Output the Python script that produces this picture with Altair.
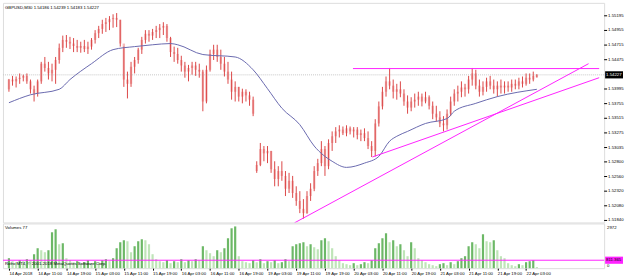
import json
import altair as alt
import pandas as pd

# ---------------- data (GBPUSD bars) ----------------
high = [1.5416, 1.5421, 1.5420, 1.5425, 1.5423, 1.5425, 1.5415, 1.5405, 1.5415, 1.5444,
        1.5452, 1.5444, 1.5441, 1.5452, 1.5474, 1.5487, 1.5488, 1.5485, 1.5483, 1.5480,
        1.5477, 1.5480, 1.5477, 1.5483, 1.5496, 1.5503, 1.5513, 1.5516, 1.5519, 1.5522,
        1.5524, 1.5513, 1.5469, 1.5428, 1.5444, 1.5452, 1.5467, 1.5485, 1.5496, 1.5496,
        1.5498, 1.5503, 1.5506, 1.5509, 1.5506, 1.5485, 1.5469, 1.5467, 1.5454, 1.5444,
        1.5439, 1.5444, 1.5444, 1.5441, 1.5431, 1.5438, 1.5464, 1.5472, 1.5472, 1.5464,
        1.5452, 1.5444, 1.5428, 1.5412, 1.5403, 1.5400, 1.5399, 1.5395, 1.5387, 1.5281,
        1.5311, 1.5306, 1.5306, 1.5298, 1.5281, 1.5273, 1.5281, 1.5265, 1.5262, 1.5257,
        1.5240, 1.5232, 1.5219, 1.5232, 1.5245, 1.5273, 1.5285, 1.5314, 1.5306, 1.5317,
        1.5330, 1.5337, 1.5340, 1.5338, 1.5340, 1.5338, 1.5337, 1.5337, 1.5333, 1.5335,
        1.5330, 1.5314, 1.5350, 1.5379, 1.5403, 1.5420, 1.5434, 1.5415, 1.5408, 1.5412,
        1.5399, 1.5389, 1.5386, 1.5392, 1.5395, 1.5392, 1.5395, 1.5389, 1.5379, 1.5372,
        1.5363, 1.5355, 1.5366, 1.5387, 1.5399, 1.5405, 1.5412, 1.5408, 1.5421, 1.5434,
        1.5431, 1.5415, 1.5412, 1.5418, 1.5421, 1.5415, 1.5412, 1.5415, 1.5412, 1.5412,
        1.5415, 1.5415, 1.5418, 1.5420, 1.5425, 1.5425, 1.5428, 1.54239]

low = [1.5395, 1.5405, 1.5402, 1.5408, 1.5412, 1.5408, 1.5392, 1.5379, 1.5387, 1.5408,
       1.5428, 1.5415, 1.5412, 1.5408, 1.5441, 1.5460, 1.5467, 1.5465, 1.5460, 1.5460,
       1.5459, 1.5460, 1.5457, 1.5464, 1.5474, 1.5483, 1.5490, 1.5493, 1.5496, 1.5500,
       1.5501, 1.5469, 1.5403, 1.5384, 1.5403, 1.5425, 1.5441, 1.5457, 1.5474, 1.5477,
       1.5480, 1.5483, 1.5483, 1.5488, 1.5477, 1.5452, 1.5444, 1.5441, 1.5428, 1.5418,
       1.5412, 1.5423, 1.5421, 1.5418, 1.5363, 1.5376, 1.5428, 1.5447, 1.5444, 1.5431,
       1.5420, 1.5408, 1.5382, 1.5379, 1.5379, 1.5376, 1.5379, 1.5372, 1.5355, 1.5262,
       1.5273, 1.5281, 1.5278, 1.5262, 1.5240, 1.5240, 1.5249, 1.5224, 1.5229, 1.5221,
       1.5208, 1.5196, 1.5187, 1.5195, 1.5216, 1.5232, 1.5257, 1.5273, 1.5257, 1.5268,
       1.5298, 1.5311, 1.5320, 1.5324, 1.5322, 1.5325, 1.5320, 1.5317, 1.5314, 1.5314,
       1.5301, 1.5288, 1.5289, 1.5338, 1.5366, 1.5387, 1.5399, 1.5384, 1.5382, 1.5386,
       1.5372, 1.5359, 1.5363, 1.5369, 1.5372, 1.5371, 1.5376, 1.5366, 1.5350, 1.5346,
       1.5337, 1.5330, 1.5333, 1.5355, 1.5372, 1.5379, 1.5386, 1.5387, 1.5392, 1.5405,
       1.5399, 1.5387, 1.5389, 1.5395, 1.5399, 1.5392, 1.5387, 1.5392, 1.5392, 1.5395,
       1.5395, 1.5399, 1.5399, 1.5402, 1.5405, 1.5408, 1.5412, 1.54183]

open_ = [1.5399, 1.5415, 1.5412, 1.5416, 1.5418, 1.5421, 1.5412, 1.5399, 1.5392, 1.5412,
         1.5441, 1.5434, 1.5425, 1.5431, 1.5447, 1.5467, 1.5480, 1.5477, 1.5474, 1.5470,
         1.5467, 1.5470, 1.5465, 1.5469, 1.5480, 1.5491, 1.5498, 1.5506, 1.5509, 1.5514,
         1.5516, 1.5513, 1.5474, 1.5415, 1.5408, 1.5436, 1.5447, 1.5464, 1.5480, 1.5490,
         1.5487, 1.5493, 1.5496, 1.5500, 1.5503, 1.5483, 1.5460, 1.5457, 1.5447, 1.5438,
         1.5428, 1.5434, 1.5438, 1.5431, 1.5428, 1.5379, 1.5431, 1.5457, 1.5464, 1.5452,
         1.5441, 1.5428, 1.5415, 1.5395, 1.5403, 1.5387, 1.5395, 1.5389, 1.5382, 1.5265,
         1.5275, 1.5301, 1.5294, 1.5298, 1.5268, 1.5252, 1.5265, 1.5257, 1.5236, 1.5249,
         1.5229, 1.5216, 1.5203, 1.5196, 1.5224, 1.5236, 1.5265, 1.5278, 1.5301, 1.5273,
         1.5311, 1.5322, 1.5330, 1.5333, 1.5327, 1.5335, 1.5330, 1.5333, 1.5324, 1.5327,
         1.5319, 1.5306, 1.5298, 1.5343, 1.5371, 1.5395, 1.5412, 1.5405, 1.5395, 1.5399,
         1.5392, 1.5379, 1.5369, 1.5379, 1.5382, 1.5387, 1.5379, 1.5386, 1.5372, 1.5359,
         1.5353, 1.5343, 1.5340, 1.5359, 1.5379, 1.5392, 1.5395, 1.5402, 1.5399, 1.5415,
         1.5425, 1.5405, 1.5395, 1.5403, 1.5412, 1.5405, 1.5399, 1.5405, 1.5402, 1.5405,
         1.5402, 1.5408, 1.5405, 1.5412, 1.5408, 1.5418, 1.5415, 1.54186]

close = [1.5415, 1.5412, 1.5416, 1.5418, 1.5421, 1.5412, 1.5399, 1.5392, 1.5412, 1.5441,
         1.5434, 1.5425, 1.5431, 1.5447, 1.5467, 1.5480, 1.5477, 1.5474, 1.5470, 1.5467,
         1.5470, 1.5465, 1.5469, 1.5480, 1.5491, 1.5498, 1.5506, 1.5509, 1.5514, 1.5516,
         1.5513, 1.5474, 1.5415, 1.5408, 1.5436, 1.5447, 1.5464, 1.5480, 1.5490, 1.5487,
         1.5493, 1.5496, 1.5500, 1.5503, 1.5483, 1.5460, 1.5457, 1.5447, 1.5438, 1.5428,
         1.5434, 1.5438, 1.5431, 1.5428, 1.5379, 1.5431, 1.5457, 1.5464, 1.5452, 1.5441,
         1.5428, 1.5415, 1.5395, 1.5403, 1.5387, 1.5395, 1.5389, 1.5382, 1.5359, 1.5275,
         1.5301, 1.5294, 1.5298, 1.5268, 1.5252, 1.5265, 1.5257, 1.5236, 1.5249, 1.5229,
         1.5216, 1.5203, 1.5196, 1.5224, 1.5236, 1.5265, 1.5278, 1.5301, 1.5273, 1.5311,
         1.5322, 1.5330, 1.5333, 1.5327, 1.5335, 1.5330, 1.5333, 1.5324, 1.5327, 1.5319,
         1.5306, 1.5298, 1.5343, 1.5371, 1.5395, 1.5412, 1.5405, 1.5395, 1.5399, 1.5392,
         1.5379, 1.5369, 1.5379, 1.5382, 1.5387, 1.5379, 1.5386, 1.5372, 1.5359, 1.5353,
         1.5343, 1.5340, 1.5359, 1.5379, 1.5392, 1.5395, 1.5402, 1.5399, 1.5415, 1.5425,
         1.5405, 1.5395, 1.5403, 1.5412, 1.5405, 1.5399, 1.5405, 1.5402, 1.5405, 1.5402,
         1.5408, 1.5405, 1.5412, 1.5408, 1.5418, 1.5415, 1.5421, 1.54227]

volume = [710, 497, 426, 568, 497, 639, 568, 994, 1420, 1278,
          1136, 1278, 2556, 2769, 1704, 1775, 710, 568, 426, 497,
          355, 426, 568, 355, 497, 426, 568, 639, 497, 710,
          1420, 1846, 1988, 1917, 1136, 1562, 1917, 2059, 1988, 1704,
          994, 639, 497, 426, 568, 355, 497, 426, 639, 426,
          568, 497, 639, 568, 1562, 1278, 1065, 852, 1278, 1136,
          1420, 2130, 2840, 2972, 852, 497, 426, 355, 568, 426,
          639, 355, 497, 426, 568, 355, 426, 639, 497, 1562,
          1704, 1775, 1846, 1562, 1704, 1491, 1349, 1988, 2130, 1917,
          1420, 852, 568, 355, 284, 213, 355, 213, 284, 426,
          355, 568, 1420, 1775, 2130, 2485, 1846, 1988, 1562, 1704,
          1278, 852, 1846, 1420, 710, 568, 426, 284, 213, 142,
          284, 355, 213, 426, 284, 497, 710, 852, 1562, 1846,
          1704, 1420, 2414, 1917, 1846, 1988, 1278, 852, 710, 355,
          213, 142, 284, 213, 426, 497, 568, 77]

# moving average (bar index, value)
ma_idx = [0, 6, 14, 17, 23, 29, 35, 40, 45, 47, 54, 63, 68, 72, 76, 81, 85, 90, 94, 99,
          103, 106, 108, 111, 116, 122, 124, 130, 136, 147]
ma_val = [1.5377, 1.5390, 1.5399, 1.5415, 1.5441, 1.5464, 1.5469, 1.5472, 1.5474, 1.5472,
          1.5456, 1.5452, 1.5431, 1.5400, 1.5368, 1.5341, 1.5306, 1.5281, 1.5271, 1.5278,
          1.5289, 1.5314, 1.5322, 1.5330, 1.5343, 1.5351, 1.5363, 1.5376, 1.5387, 1.5399]

# trend lines (bar index / price)
tl_x1 = [79.5, 101.2, 95.8]
tl_x2 = [161.4, 164.35, 164.35]
tl_y1 = [1.5180, 1.5288, 1.5433]
tl_y2 = [1.5441, 1.5418, 1.5433]

tick_idx = [0, 8, 16, 24, 32, 40, 48, 56, 64, 72, 80, 88, 96, 104, 112, 120, 128, 136, 144]
tick_lbl = ["14 Apr 2018", "14 Apr 11:00", "14 Apr 19:00", "15 Apr 03:00", "15 Apr 11:00",
            "15 Apr 19:00", "16 Apr 03:00", "16 Apr 11:00", "16 Apr 19:00", "19 Apr 03:00",
            "19 Apr 11:00", "19 Apr 19:00", "20 Apr 03:00", "20 Apr 11:00", "20 Apr 19:00",
            "21 Apr 03:00", "21 Apr 11:00", "21 Apr 19:00", "22 Apr 03:00"]
price_ticks = [1.55195, 1.54955, 1.54715, 1.54475, 1.53995, 1.53755, 1.53515, 1.53275,
               1.53035, 1.52800, 1.52560, 1.52320, 1.52080, 1.51840]
vol_max_tick = 2972
vol_min_tick = 0

current_price = 1.54227
vol_level = 566
vol_level_text = "811.365"
title_text = "GBPUSD,M30  1.54186 1.54239 1.54183 1.54227"
vol_title = "Volumes 77"
copyright_text = "Rofro MT4, \u00a9 2001-2018 MetaQuotes Software Corp."

# ---------------- frames ----------------
N = len(close)
bars = pd.DataFrame({"i": list(range(N)), "open": open_, "high": high, "low": low,
                     "close": close, "vol": volume})
bars["dir"] = ["up" if k == 0 or volume[k] >= volume[k - 1] else "down" for k in range(N)]
ma = pd.DataFrame({"i": ma_idx, "v": ma_val})
trend = pd.DataFrame({"x1": tl_x1, "x2": tl_x2, "y1": tl_y1, "y2": tl_y2})
cur = pd.DataFrame({"p": [current_price], "t": [f"{current_price:.5f}"]})
lvl = pd.DataFrame({"v": [vol_level], "t": [vol_level_text]})
ttl = pd.DataFrame({"t": [title_text]})
vt = pd.DataFrame({"t": [vol_title]})
cpr = pd.DataFrame({"t": [copyright_text]})
pt = pd.DataFrame({"p": price_ticks, "t": [f"{v:.5f}" for v in price_ticks]})
vmax = pd.DataFrame({"v": [vol_max_tick], "t": [str(vol_max_tick)]})
vmin = pd.DataFrame({"v": [vol_min_tick], "t": [str(vol_min_tick)]})

FONT = "Liberation Sans"
FS = 4.3
W = 605
MAG = "#ff22ff"
BOX = "M-1,-0.4L1,-0.4L1,0.4L-1,0.4Z"

xscale = alt.Scale(domain=[-0.272, 164.35], nice=False, zero=False)
yscale = alt.Scale(domain=[1.51807, 1.55407], nice=False, zero=False)
vscale = alt.Scale(domain=[0, 3184], nice=False, zero=True)

label_expr = json.dumps(tick_lbl) + "[round(datum.value / 8)]"
time_axis = alt.Axis(values=tick_idx, labelExpr=label_expr, labelAlign="left", title=None,
                     labelFont=FONT, labelFontSize=FS, labelColor="#000000", tickColor="#000000",
                     tickSize=2, labelPadding=1, domain=False, grid=False, labelOverlap=False,
                     labelFlush=False, labelBound=False)


def txt(df, baseline="middle", **kw):
    return alt.Chart(df).mark_text(align="left", baseline=baseline, font=FONT, fontSize=FS,
                                   **kw)


# ---------------- price panel ----------------
bodies = alt.Chart(bars).mark_bar(width=2.4, color="#f4bcbc").encode(
    x=alt.X("i:Q", scale=xscale, axis=None),
    y=alt.Y("open:Q", scale=yscale, axis=None), y2="close:Q")
cur_line = alt.Chart(cur).mark_rule(color="#c8c8c8", strokeWidth=1, strokeDash=[1, 1]).encode(
    y=alt.Y("p:Q", scale=yscale, axis=None))
wicks = alt.Chart(bars).mark_rule(color="#dc4848", strokeWidth=1).encode(
    x=alt.X("i:Q", scale=xscale, axis=None),
    y=alt.Y("low:Q", scale=yscale, axis=None), y2="high:Q")
ma_line = alt.Chart(ma).mark_line(color="#6a6aae", strokeWidth=1, interpolate="monotone").encode(
    x=alt.X("i:Q", scale=xscale, axis=None), y=alt.Y("v:Q", scale=yscale, axis=None))
tlines = alt.Chart(trend).mark_rule(color=MAG, strokeWidth=1, clip=True).encode(
    x=alt.X("x1:Q", scale=xscale, axis=None), x2="x2:Q",
    y=alt.Y("y1:Q", scale=yscale, axis=None), y2="y2:Q")
title_mark = txt(ttl, color="#000000").encode(x=alt.value(2), y=alt.value(5), text="t:N")
# right price scale (ticks + labels)
p_ticks = alt.Chart(pt).mark_rule(color="#000000", strokeWidth=1).encode(
    x=alt.value(W), x2=alt.value(W + 3), y=alt.Y("p:Q", scale=yscale, axis=None))
p_labels = txt(pt, color="#000000").encode(
    x=alt.value(W + 4), y=alt.Y("p:Q", scale=yscale, axis=None), text="t:N")
pbox = alt.Chart(cur).mark_point(shape=BOX, filled=True, opacity=1, color="#000000",
                                 size=324).encode(
    x=alt.value(W + 10), y=alt.Y("p:Q", scale=yscale, axis=None))
ptext = txt(cur, color="#ffffff").encode(
    x=alt.value(W + 2), y=alt.Y("p:Q", scale=yscale, axis=None), text="t:N")

top = alt.layer(bodies, cur_line, wicks, ma_line, tlines, title_mark,
                p_ticks, p_labels, pbox, ptext).properties(width=W, height=221)

# ---------------- volume panel ----------------
vbars = alt.Chart(bars).mark_bar(width=2.2).encode(
    x=alt.X("i:Q", scale=xscale, axis=time_axis),
    y=alt.Y("vol:Q", scale=vscale, axis=None),
    color=alt.Color("dir:N", scale=alt.Scale(domain=["up", "down"],
                                            range=["#6cb866", "#bfe5b8"]), legend=None))
lvl_line = alt.Chart(lvl).mark_rule(color=MAG, strokeWidth=1).encode(
    y=alt.Y("v:Q", scale=vscale, axis=None))
lvl_box = alt.Chart(lvl).mark_point(shape=BOX, filled=True, opacity=1, color=MAG,
                                    size=324).encode(
    x=alt.value(W + 10), y=alt.Y("v:Q", scale=vscale, axis=None))
lvl_text = txt(lvl, color="#000000").encode(
    x=alt.value(W + 2), y=alt.Y("v:Q", scale=vscale, axis=None), text="t:N")
vmax_lbl = txt(vmax, baseline="top", color="#000000").encode(
    x=alt.value(W + 3), y=alt.Y("v:Q", scale=vscale, axis=None), text="t:N")
vmin_lbl = txt(vmin, baseline="bottom", color="#000000").encode(
    x=alt.value(W + 3), y=alt.Y("v:Q", scale=vscale, axis=None), text="t:N")
vt_mark = txt(vt, color="#000000").encode(x=alt.value(2), y=alt.value(5), text="t:N")
cp_mark = txt(cpr, color="#000000").encode(x=alt.value(2), y=alt.value(41), text="t:N")

bottom = alt.layer(vbars, lvl_line, lvl_box, lvl_text, vmax_lbl, vmin_lbl,
                   vt_mark, cp_mark).properties(width=W, height=45)

chart = alt.vconcat(top, bottom, spacing=1, bounds="flush").properties(
    padding={"left": 2, "top": 1, "right": 0, "bottom": 0}
).configure_view(stroke="#808080", strokeWidth=1).configure(background="#ffffff")

chart.save("out.html", embed_options={"renderer": "svg", "actions": False})
